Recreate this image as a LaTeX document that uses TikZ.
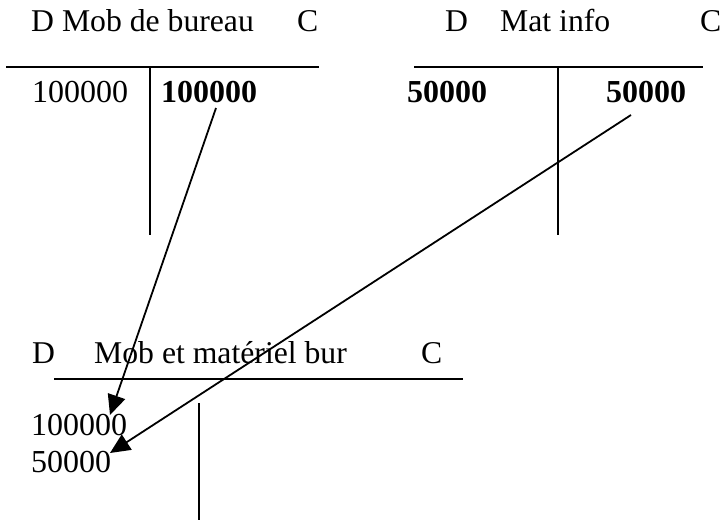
\documentclass[tikz,border=0pt]{standalone}
\usepackage{fontspec}
\setmainfont{Liberation Serif}
\usetikzlibrary{arrows.meta}
\begin{document}
\begin{tikzpicture}[x=1pt,y=-1pt,
  ttl/.style={anchor=base west,inner sep=0pt,font=\fontsize{31.7}{36}\selectfont},
  txt/.style={anchor=base west,inner sep=0pt,font=\fontsize{32}{36}\selectfont},
  btxt/.style={txt,font=\fontsize{32}{36}\selectfont\bfseries},
  hline/.style={line width=2.2pt},
  vline/.style={line width=1.5pt},
  arr/.style={line width=1.8pt,-{Triangle[length=20pt,width=18pt]}}]
\useasboundingbox (0,0) rectangle (723,521);
% T account 1
\node[ttl] (t1d) at (31,32) {D Mob de bureau};
\node[ttl] (t1c) at (297,32) {C};
\coordinate (t1l) at (6,67); \coordinate (t1r) at (319,67);
\draw[hline] (t1l) -- (t1r);
\coordinate (t1vt) at (150,67); \coordinate (t1vb) at (150,235);
\draw[vline] (t1vt) -- (t1vb);
\node[txt] (t1deb) at (32,103) {100000};
\node[btxt] (t1cre) at (161,103) {100000};
% T account 2
\node[ttl] (t2d) at (445,32) {D};
\node[ttl] (t2n) at (500,32) {Mat info};
\node[ttl] (t2c) at (700,32) {C};
\coordinate (t2l) at (414,67); \coordinate (t2r) at (703,67);
\draw[hline] (t2l) -- (t2r);
\coordinate (t2vt) at (558,67); \coordinate (t2vb) at (558,235);
\draw[vline] (t2vt) -- (t2vb);
\node[btxt] (t2deb) at (407,103) {50000};
\node[btxt] (t2cre) at (606,103) {50000};
% T account 3
\node[ttl] (t3d) at (32,363) {D};
\node[ttl] (t3n) at (94,363) {Mob et matériel bur};
\node[ttl] (t3c) at (421,363) {C};
\coordinate (t3l) at (54,379); \coordinate (t3r) at (463,379);
\draw[hline] (t3l) -- (t3r);
\coordinate (t3vt) at (199,403); \coordinate (t3vb) at (199,520);
\draw[vline] (t3vt) -- (t3vb);
\node[txt] (t3a) at (31,435) {100000};
\node[txt] (t3b) at (31,472) {50000};
% arrows
\coordinate (a1s) at (216,108); \coordinate (a1e) at (110,415);
\coordinate (a2s) at (631,115); \coordinate (a2e) at (110,453);
\draw[arr] (a1s) -- (a1e);
\draw[arr] (a2s) -- (a2e);
\end{tikzpicture}
\end{document}
